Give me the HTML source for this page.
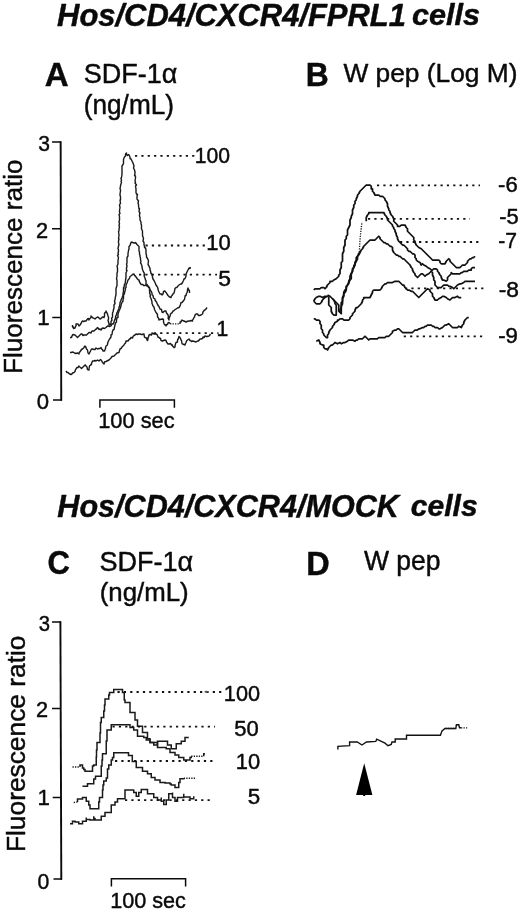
<!DOCTYPE html>
<html>
<head>
<meta charset="utf-8">
<title>Figure</title>
<style>
html,body{margin:0;padding:0;background:#fff;}
body{width:520px;height:911px;overflow:hidden;position:relative;}
svg{position:absolute;left:0;top:0;display:block;}
text{font-family:"Liberation Sans",sans-serif;fill:#0a0a0a;stroke:#0a0a0a;stroke-width:.45px;stroke-linejoin:round;}
.ax{fill:none;stroke:#0a0a0a;stroke-width:1.9;}
.tk{fill:none;stroke:#0a0a0a;stroke-width:1.5;}
.cvA path{fill:none;stroke:#1a1a1a;stroke-width:1.4;stroke-linejoin:round;}
.cvB path{fill:none;stroke:#111;stroke-width:1.75;stroke-linejoin:round;}
.cvC path{fill:none;stroke:#1a1a1a;stroke-width:1.5;stroke-linejoin:miter;}
.cvD path{fill:none;stroke:#111;stroke-width:1.4;stroke-linejoin:miter;}
.dt path{fill:none;stroke:#111;stroke-width:1.8;stroke-dasharray:2.2 4.15;}
.dt2 path{fill:none;stroke:#1a1a1a;stroke-width:1.3;stroke-dasharray:1.3 1.2;}
</style>
</head>
<body>
<svg width="520" height="911" viewBox="0 0 520 911">
<rect width="520" height="911" fill="#fff"/>
<!-- text -->
<text transform="translate(57.08 25.9) scale(0.99 1)" font-size="31.25" font-weight="bold" font-style="italic">Hos/CD4/CXCR4/FPRL1</text>
<text transform="translate(412.08 25.3) scale(1.02 1)" font-size="30" font-weight="bold" font-style="italic">cells</text>
<text transform="translate(57.29 517.2) scale(0.97 1)" font-size="31.54" font-weight="bold" font-style="italic">Hos/CD4/CXCR4/MOCK</text>
<text transform="translate(410.85 516.41) scale(1.02 1)" font-size="29.46" font-weight="bold" font-style="italic">cells</text>
<text transform="translate(44.8 86.34) scale(0.97 1)" font-size="34.12" font-weight="bold">A</text>
<text transform="translate(83.64 82.82) scale(0.97 1)" font-size="27.89">SDF-1α</text>
<text transform="translate(83.73 113.83) scale(0.97 1)" font-size="27.02">(ng/mL)</text>
<text transform="translate(305.86 86.2) scale(0.96 1)" font-size="33.19" font-weight="bold">B</text>
<text transform="translate(343.44 82.11) scale(0.99 1)" font-size="26.6">W pep (Log M)</text>
<text transform="translate(47.46 573.97) scale(0.93 1)" font-size="33.38" font-weight="bold">C</text>
<text transform="translate(99.45 570.62) scale(0.98 1)" font-size="27.61">SDF-1α</text>
<text transform="translate(99.7 601.03) scale(0.99 1)" font-size="26.06">(ng/mL)</text>
<text transform="translate(306.22 574.6) scale(0.97 1)" font-size="33.48" font-weight="bold">D</text>
<text transform="translate(363.94 569.98) scale(0.99 1)" font-size="26.78">W pep</text>
<text transform="translate(98.25 428.27) scale(0.95 1)" font-size="22.96">100 sec</text>
<text transform="translate(110.16 908.37) scale(0.96 1)" font-size="22.54">100 sec</text>
<text transform="translate(38.36 151.27) scale(0.92 1)" font-size="22.96">3</text>
<text transform="translate(36.01 237.7) scale(0.96 1)" font-size="22.71">2</text>
<text transform="translate(37.22 325) scale(1 1)" font-size="22.32">1</text>
<text transform="translate(36.82 409.27) scale(0.97 1)" font-size="22.82">0</text>
<text transform="translate(38.79 630.58) scale(0.91 1)" font-size="22.25">3</text>
<text transform="translate(36.01 716.9) scale(0.97 1)" font-size="22.43">2</text>
<text transform="translate(37.52 804.7) scale(1 1)" font-size="22.32">1</text>
<text transform="translate(37.45 888.87) scale(0.94 1)" font-size="22.54">0</text>
<text transform="translate(194.8 163.48) scale(0.95 1)" font-size="22.25">100</text>
<text transform="translate(206.33 250.48) scale(0.99 1)" font-size="22.25">10</text>
<text transform="translate(218.28 285.88) scale(1.04 1)" font-size="22">5</text>
<text transform="translate(216.41 335.8) scale(1 1)" font-size="21.16">1</text>
<text transform="translate(498.12 192.08) scale(1.02 1)" font-size="21.69">-6</text>
<text transform="translate(499.13 223.68) scale(1.01 1)" font-size="21.71">-5</text>
<text transform="translate(498.26 248.01) scale(0.98 1)" font-size="21.47">-7</text>
<text transform="translate(498.69 297.28) scale(1.05 1)" font-size="21.69">-8</text>
<text transform="translate(498.22 342.98) scale(1.01 1)" font-size="21.97">-9</text>
<text transform="translate(223.86 700.98) scale(0.97 1)" font-size="22.39">100</text>
<text transform="translate(234.32 736.48) scale(0.99 1)" font-size="22.25">50</text>
<text transform="translate(235.85 769.28) scale(1.01 1)" font-size="21.69">10</text>
<text transform="translate(247.81 803.88) scale(1.02 1)" font-size="21.93">5</text>
<text transform="translate(22.44 374) rotate(-90) scale(0.99 1)" font-size="26.35">Fluorescence ratio</text>
<text transform="translate(25.44 852.1) rotate(-90) scale(1.01 1)" font-size="26.08">Fluorescence ratio</text>
<!-- axes and scale bars -->
<path class="ax" d="M60.65 141.2L61.25 400.8"/>
<path class="tk" d="M52 141.9H61M52 228.8H61M52.3 317.5H61M53 400H61.9"/>
<path class="tk" d="M99.9 407.7V399.9H174.4V407.7"/>
<path class="ax" d="M60.4 621.2L61.3 879.8"/>
<path class="tk" d="M52 621.9H61M52 708.5H61M52.7 797.4H61M53.5 879.1H62"/>
<path class="tk" d="M111.4 886.6V878.8H185.6V886.6"/>
<!-- traces -->
<g class="cvA">
<path d="M72.5 325 72.5 327 73.5 327 73.5 328.5 75 328 75.5 326.5 76 326 76 324 77.5 324 78 324 79 326 80 325 81 323.5 82 321.5 82.5 321 83.5 321.5 85 321 86 321 87.5 319 88.5 318.5 89 320 89.5 319 91 317.5 91 316 92 317 93 318 93.5 318 95 319 96 318 97.5 317 98.5 317.5 100 319 101 318.5 102.5 317 104 317.5 104.5 316 104.5 313.5 105 312.5 106 312.5 106 311 106.5 312 107.5 314 108 316 108.5 317 108.5 319 108 320.5 108.5 322 109 324 109 325 110 324.5 111 324 111 321.5 112 320 111.5 318.5 112.5 317 112.5 315 112.5 313 113 312 113.5 309.5 114 308 114 305.5 114 305 115 303.5 114.5 301 115 300 115 299.5 115.5 296.5 116 294.5 116 294 116 291.5 116 290 116 288.5 117 285.5 117 284 117 281.5 117 280 116.5 279 117 276 117 275 117 273 117.5 272 117.5 270 117.5 268 117 266 117.5 265 118 264 118 262.5 118 260.5 118.5 257.5 117.5 255.5 118.5 254.5 118 253.5 118.5 251 118.5 250 118 248.5 118.5 246 119 244.5 118.5 243 118.5 241 119 239 118.5 238.5 119 235.5 119 235 118.5 231.5 119 231 119 229 119.5 227 119 226 119.5 223.5 119 222 119.5 220 119.5 218.5 119.5 216.5 119 214.5 120 213.5 119.5 212 119.5 210.5 120 207.5 119.5 205 120.5 203 120.5 203.5 120 200 120.5 200 120.5 197 120 195 120 194 120.5 191 120.5 190 120 188.5 120.5 186.5 120.5 185.5 121.5 182.5 121 181.5 121.5 180.5 121 178 121.5 177.5 122 174.5 122 173.5 122 172.5 122 170 122 168.5 122 166 123 164.5 123.5 163.5 123.5 161 123.5 159.5 124 158 124.5 157 125.5 156 125.5 154 126.5 153 126.5 154.5 127.5 155.5 128.5 154.5 129 155 130 157 130 158.5 131 159 132 161 132.5 162 133 163 133.5 164.5 134 166 133.5 168 134.5 170 135 172 135 173.5 134.5 175.5 135.5 176 135.5 178 135 181 135.5 182 135 183 136.5 185 135.5 186 136 189 136 190 136 192.5 136.5 194 137.5 194.5 137 196.5 137 198.5 137 199 138.5 201 138 203 138.5 204.5 138.5 205.5 139 209 139.5 208.5 139 211.5 140 213 139.5 214.5 139.5 216 140 217.5 140 218.5 140 220 141 222 141 224 141.5 225 141.5 226.5 141.5 229 142 230 142.5 231 142.5 233 142.5 235 142.5 235.5 143 237 143.5 238.5 143 241 144 242.5 144 244.5 144.5 246.5 144.5 247.5 145.5 248 146 250 146 253.5 146 254 146.5 255 146.5 257 147.5 258.5 148 259.5 148.5 261 148 264.5 149 266 149.5 267.5 150 268 150 270 150.5 271 151 273.5 151.5 273.5 152.5 276.5 152.5 277.5 153 279 154 280.5 154.5 281.5 155 282.5 156 285 157 286.5 157.5 287 158 289 158.5 291 159 292 160 294 161.5 294 162 295 163 294 163.5 291.5 165 291 165.5 292 166.5 293 167 294 168 295.5 169 296.5 169.5 297 171 297.5 171.5 296 172 295.5 173 294 174 293 174.5 291 175 288.5 176 287.5 177 287.5 177.5 286.5 179 285 180.5 284 181.5 284 182.5 282.5 183 281.5 183.5 280.5 184 279 185 278.5 186 276.5 186 275 186.5 273 187 272 188 270 189 268 190 268.5 190.5 267"/>
<path d="M70 337.5 71.5 337.5 72 336 73 334.5 75 335 76.5 336.5 77.5 337.5 78.5 336.5 79 336 80 335 81 334 82 334 83 335.5 84 335 85 335 86.5 335 88 333.5 89 332.5 90 332.5 91 333 92 331 94 331 95 330 96 329 96.5 329 97.5 327.5 98.5 328.5 99 329.5 100 329 101 330 102 328.5 103 328 104.5 328.5 106 327.5 107.5 326 108 326 109.5 326.5 110 326 111 326 112 324 113 324 114 322.5 114 322 115 319 115.5 319 115.5 317 116 315.5 116.5 315 117 312.5 117.5 312 118 310.5 119 308.5 119 307 119.5 306.5 120 304 120 302.5 121 300.5 121 300 122 298 122.5 296.5 123 295.5 123 293.5 123.5 292 123.5 290 123.5 287.5 124 287.5 124.5 284 125 284 125.5 281 125.5 280 126 277.5 126 276 126 275.5 126 273 127 270.5 126.5 270.5 126.5 268 127 266 126.5 264 127 263 127 262 127 260 127 257.5 128 256 128 255 128 253.5 128.5 250.5 129 249 129 248 129 246.5 130 245.5 130.5 244 131 242.5 132 242 132.5 242.5 134 243 135 243 135.5 242.5 137 244.5 137.5 245 138.5 246 139 246.5 139 247.5 139 249 139 251 139.5 252 139.5 254 140 255.5 140 256.5 140.5 258 140.5 260 141 261.5 140.5 263 141 263.5 142 266 142 267 142.5 269.5 143.5 272 144 272.5 144.5 275 144 275 144.5 277 145 278 145.5 280 146 280.5 146 282.5 146 284 146.5 284 147.5 285 148.5 287 149.5 287.5 149.5 288.5 150.5 290.5 151 291 152 293 152 294.5 153 295.5 153.5 298 155 299 155 300 156 301.5 156.5 302 157.5 304.5 158.5 306 159 306.5 160 309 161.5 309.5 162 312 163 312.5 164 311.5 164.5 311 166 311 166 311.5 166.5 313 167 313.5 168 315 168.5 317 168 318 169 320 169 318.5 169.5 317.5 170 316 170.5 314 171.5 313 172 313 173 311 173.5 311 174.5 310 176 309 177.5 308 179 307.5 180 306 180.5 304.5 181 302.5 182 302.5 182.5 302 184 300 184.5 299.5 185 296.5 185 296 186 295.5 186.5 293.5 187 292.5 187.5 291 187.5 289.5 188 288 188.5 289.5 189.5 291 189.5 293"/>
<path d="M70 352.5 71 352.5 73 352 74.5 353 76 353.5 77.5 353 79 354 79 353 80.5 351 81.5 349.5 82.5 349 84 347.5 85 346 86 347.5 86.5 349 87.5 350 88 353 89 354 89.5 353 90.5 351 91.5 349 92.5 349 94 349.5 95 349.5 96 348 97.5 349 99 348.5 100 348.5 101 347.5 102 349.5 102.5 349.5 103 351 104 351 104.5 351 105.5 348.5 105.5 348 106 346 107.5 345 107.5 344 108 342 108.5 341 109 340 109.5 339 110 338.5 111 337 111 335 112 334.5 112.5 331 113 330 114 329.5 114.5 327 115 325 115.5 323 116.5 322 116.5 320 117 317.5 118 317.5 118 315 118 314 119 311 119.5 310 120 309 121 306 121 305 122 302.5 122.5 301.5 123 301.5 123 299 123.5 298.5 123.5 295 124.5 293.5 124.5 292.5 125 291 125.5 289 125 288.5 126 287.5 126 285 127 283 127.5 281.5 128 280 129 279 129.5 278 130 276.5 131.5 275.5 132.5 274.5 134 274 134.5 275.5 135.5 276 136 277 137.5 279 138.5 280 139 280 139.5 282 140.5 283.5 141 284.5 143 284.5 143.5 285.5 145 285.5 146 285 147 286 148 286.5 149 287.5 149.5 288.5 149.5 291 150 292 149.5 292.5 150.5 295.5 150 296 150.5 297.5 151 298.5 151.5 300 152 302 152 303.5 152.5 304.5 153 306 154 307 154.5 309.5 155.5 311.5 156 312.5 156.5 313 157.5 314.5 157.5 316 157.5 317 158.5 318 159 320 159.5 319.5 160.5 319.5 162 319 162.5 319 163.5 319.5 163.5 322 164 323.5 164.5 324.5 165.5 325 166 326 166.5 324.5 167.5 324.5 168 323 169 322.5 170 323.5"/>
<path d="M180 324 180 322 181 322 181.5 320.5 182 320 182.5 320.5 184 321 186 322 187 321.5 188.5 321 190 321 191 320.5 192.5 321 192.5 320 193 319.5 194 317.5 194.5 317 195 315 196 314 197.5 314 198.5 315.5 199.5 315.5 201 315 202.5 314 203 312 204.5 310 205 310 206 309 207 307.5"/>
<path d="M66 371 67 372.5 68 372.5 69.5 374 70 374 71 374.5 72 374 72.5 373 74 372.5 75 371.5 75.5 369.5 76 369 77 367.5 78 367.5 79 366 79 366.5 80.5 367.5 81.5 368.5 82.5 367.5 84 366 84.5 365.5 85.5 365 86 366 87 367 87.5 369.5 89 370 89 369 89.5 366 90.5 365 91.5 364.5 91.5 363.5 92.5 361 94 361 95 360.5 96 361 97.5 360 99 361 100.5 359.5 101 360 101.5 360.5 102.5 362.5 104 364 104.5 362 106 361.5 107 361 109 360 109.5 359.5 111 358 112 356.5 114 356 115 355 116 354 117 353 119 352.5 119.5 350.5 120 349 121 348.5 122 347 122.5 346.5 124 345 124.5 344 125.5 343 126 341 127.5 341 128 341 129.5 339 130 339 131 337.5 132.5 338 133 336.5 134 335.5 135 335 136 334 137.5 334.5 138.5 334 140 334 141.5 334.5 142 334.5 144 334 144 334.5 144.5 337 145 337.5 146.5 338 147 340 147.5 340.5 148 339 148 337.5 148.5 337 149 335 150 334.5 151.5 335 152 333 154 334 155.5 334 156 334 157 334.5 158 337 159 337.5 159.5 338 160.5 338.5 161 340.5 162.5 341 163.5 340.5 165 340 166 340.5 166.5 342 168 344 169 344 170.5 343.5 171.5 345 172.5 345 172.5 346 174 347.5 175 347 175 346 175.5 344 176 342.5 177.5 342 177.5 340 178.5 338.5 178.5 338 179 336.5 180 337.5 180.5 338.5 181 340 181.5 340.5 182 343.5 182.5 344 184 344.5 185 345 185.5 343.5 186 342.5 186.5 341 187.5 340 189 339 190 340.5 190.5 340.5 191.5 341.5 192.5 341 194.5 341.5 196 342 197.5 341 198.5 341 199.5 339.5 200 339 201 339 202.5 338.5 203 337 204 337.5 205 336 206.5 336.5 207 336.5 209 336 209.5 335.5 210.5 334"/>
</g>
<g class="cvB">
<path d="M313.75 290 315 288.75 317.5 288.75 318.75 288.75 320 288.75 321.25 287.5 323.75 287.5 325 288.75 326.25 287.5 327.5 285 328.75 283.75 330 282.5 330 281.25 332.5 281.25 333.75 280 336.25 278.75 337.5 277.5 338.75 276.25 338.75 275 340 273.75 340 271.25 340 270 341.25 267.5 341.25 266.25 341.25 265 341.25 262.5 342.5 261.25 342.5 258.75 342.5 256.25 342.5 253.75 343.75 251.25 343.75 250 343.75 247.5 345 245 345 242.5 345 240 346.25 238.75 346.25 236.25 347.5 235 347.5 232.5 347.5 230 348.75 227.5 350 225 350 222.5 350 220 351.25 217.5 351.25 216.25 352.5 213.75 352.5 212.5 352.5 210 353.75 207.5 353.75 205 355 203.75 355 201.25 356.25 200 356.25 198.75 357.5 196.25 357.5 195 358.75 193.75 360 191.25 361.25 190 362.5 188.75 363.75 187.5 365 186.25 366.25 185 367.5 185 368.75 185 370 185 371.25 186.25 371.25 188.75 372.5 188.75 372.5 191.25 373.75 192.5 375 195 376.25 195 378.75 195 380 196.25 382.5 196.25 383.75 197.5 385 198.75 385 200 386.25 201.25 387.5 203.75 387.5 206.25 388.75 208.75 388.75 210 390 211.25 390 212.5 391.25 215 392.5 216.25 393.75 218.75 393.75 221.25 395 222.5 396.25 223.75 397.5 225 397.5 226.25 400 226.25 401.25 225 402.5 225 403.75 225 405 225 406.25 227.5 407.5 228.75 407.5 231.25 408.75 232.5 410 233.75 411.25 235 412.5 236.25 413.75 237.5 413.75 240 415 241.25 415 242.5 416.25 245 417.5 246.25 418.75 247.5 421.25 248.75 422.5 250 423.75 251.25 425 252.5 426.25 253.75 427.5 255 428.75 256.25 430 257.5 431.25 258.75 432.5 260 435 260 436.25 260 438.75 260 440 261.25 440 262.5 441.25 263.75 443.75 263.75 445 263.75 446.25 261.25 447.5 260 448.75 258.75 450 260 450 261.25 451.25 262.5 452.5 263.75 453.75 265 455 266.25 456.25 267.5 457.5 267.5 460 267.5 461.25 266.25 462.5 265 463.75 265 465 265 466.25 263.75 467.5 262.5 467.5 261.25 468.75 260 470 258.75 471.25 258.75 472.5 257.5 473.75 257.5 475 256.25"/>
<path d="M313.75 301.25 315 298.75 316.25 297.5 318.75 296.25 320 296.25 322.5 297.5 325 296.25 327.5 296.25 325 297.5 323.75 298.75 322.5 300 321.25 302.5 320 303.75 317.5 303.75 316.25 303.75 315 302.5 313.75 301.25"/>
<path d="M327.5 295 330 296.25 331.25 297.5 332.5 298.75 333.75 300 335 301.25 336.25 302.5 337.5 303.75 338.75 305 338.75 306.25 338.75 308.75 338.75 311.25 340 312.5 341.25 313.75 341.25 311.25 341.25 308.75 341.25 307.5 341.25 305 341.25 302.5 342.5 301.25 342.5 298.75 342.5 297.5 343.75 295 343.75 292.5 345 290 346.25 288.75 346.25 286.25 347.5 285 348.75 282.5 350 280 351.25 278.75 351.25 276.25 351.25 273.75 352.5 271.25 352.5 270 353.75 267.5 353.75 266.25 355 263.75 355 262.5 356.25 260 356.25 257.5 357.5 256.25 358.75 253.75 358.75 252.5"/>
<path d="M366.25 221.25 366.25 220 366.25 218.75 366.25 217.5 367.5 215 368.75 213.75 368.75 212.5 371.25 212.5 373.75 212.5 376.25 212.5 377.5 212.5 380 212.5 381.25 212.5 383.75 212.5 385 215 386.25 216.25 387.5 218.75 387.5 220 388.75 221.25 390 222.5 391.25 223.75 392.5 225 392.5 226.25 393.75 227.5 393.75 228.75 395 230 395 231.25 396.25 233.75 396.25 235 397.5 237.5 397.5 238.75 398.75 241.25 400 242.5 401.25 243.75 402.5 245 403.75 245 405 246.25 406.25 247.5 407.5 248.75 407.5 250 408.75 251.25 410 251.25 411.25 252.5 412.5 253.75 413.75 253.75 415 255 415 257.5 416.25 258.75 416.25 260 417.5 261.25 420 262.5 421.25 265 422.5 263.75 423.75 265 426.25 266.25 427.5 267.5 430 268.75 431.25 270 432.5 270 433.75 268.75 436.25 268.75 437.5 270 437.5 271.25 438.75 272.5 440 275 441.25 276.25 441.25 277.5 442.5 280 443.75 280 446.25 281.25 447.5 280 447.5 277.5 448.75 276.25 450 275 451.25 273.75 451.25 272.5 452.5 273.75 455 273.75 456.25 273.75 458.75 273.75 460 273.75 461.25 272.5 462.5 272.5 463.75 271.25 465 271.25 467.5 271.25 468.75 270 471.25 270 471.25 268.75 472.5 267.5 473.75 267.5 475 267.5"/>
<path d="M328.75 296.25 328.75 298.75 328.75 300 328.75 302.5 328.75 305 330 306.25 331.25 307.5 331.25 310 331.25 311.25 332.5 313.75 333.75 315 335 315 336.25 315 336.25 312.5 336.25 310 336.25 307.5 336.25 305 335 303.75 335 302.5 333.75 300 332.5 298.75"/>
<path d="M340 312.5 340 310 341.25 307.5 341.25 306.25 342.5 303.75 342.5 301.25 342.5 298.75 343.75 296.25 343.75 293.75 345 292.5 346.25 290 346.25 287.5 347.5 285 348.75 283.75 348.75 281.25 350 278.75 350 276.25 351.25 273.75 352.5 271.25 352.5 268.75 353.75 267.5 355 265 355 263.75 356.25 261.25 357.5 258.75 357.5 256.25 358.75 255 360 252.5 361.25 250 362.5 248.75 363.75 246.25 365 245 366.25 243.75 367.5 242.5 368.75 241.25 370 240 371.25 240 373.75 240 375 240 376.25 238.75 377.5 237.5 378.75 236.25 380 237.5 380 238.75 381.25 240 382.5 241.25 383.75 242.5 385 242.5 386.25 243.75 387.5 243.75 388.75 245 390 246.25 391.25 246.25 392.5 247.5 392.5 250 393.75 252.5 395 253.75 396.25 255 397.5 255 398.75 256.25 400 256.25 401.25 257.5 402.5 258.75 403.75 258.75 405 260 406.25 261.25 407.5 262.5 408.75 263.75 410 265 411.25 267.5 412.5 268.75 412.5 270 413.75 272.5 415 273.75 415 275 416.25 276.25 417.5 277.5 418.75 276.25 420 275 421.25 273.75 422.5 273.75 423.75 275 425 276.25 426.25 275 428.75 273.75 430 272.5 431.25 271.25 432.5 272.5 432.5 275 433.75 277.5 433.75 280 435 281.25 435 282.5 435 285 436.25 286.25 437.5 287.5 438.75 287.5 440 287.5 441.25 287.5 442.5 286.25 443.75 285 445 285 446.25 285 447.5 285 448.75 286.25 450 286.25 452.5 287.5 453.75 288.75 455 287.5 456.25 286.25 457.5 285 460 283.75 461.25 283.75 463.75 282.5 465 281.25 466.25 281.25 468.75 281.25 470 281.25 471.25 281.25 473.75 281.25 475 281.25"/>
<path d="M313.75 318.75 315 318.75 316.25 320 318.75 320 320 321.25 320 323.75 321.25 325 321.25 326.25 321.25 328.75 322.5 330 322.5 332.5 323.75 333.75 323.75 335 325 336.25 326.25 337.5 327.5 337.5 327.5 335 328.75 333.75 328.75 332.5 330 330 332.5 327.5 332.5 326.25 333.75 325 335 322.5 337.5 321.25 337.5 320 338.75 320 340 318.75 342.5 318.75 343.75 320 346.25 320 347.5 320 348.75 320 350 318.75 350 317.5 351.25 316.25 352.5 315 352.5 313.75 353.75 312.5 355 311.25 355 310 356.25 307.5 357.5 307.5 358.75 306.25 360 305 361.25 303.75 362.5 301.25 362.5 300 363.75 298.75 363.75 297.5 365 297.5 367.5 297.5 368.75 297.5 370 297.5 371.25 295 372.5 292.5 372.5 291.25 373.75 290 375 290 377.5 290 378.75 290 380 290 381.25 288.75 382.5 286.25 383.75 285 385 283.75 386.25 283.75 387.5 282.5 390 282.5 391.25 282.5 392.5 282.5 395 281.25 397.5 281.25 398.75 281.25 400 282.5 401.25 283.75 402.5 285 403.75 285 405 287.5 406.25 288.75 407.5 290 408.75 290 411.25 291.25 412.5 291.25 413.75 292.5 415 293.75 416.25 295 417.5 296.25 418.75 297.5 420 296.25 421.25 295 422.5 293.75 423.75 292.5 425 291.25 426.25 290 427.5 288.75 430 290 430 291.25 431.25 292.5 432.5 293.75 432.5 296.25 433.75 297.5 435 300 437.5 300 438.75 298.75 441.25 297.5 442.5 296.25 443.75 296.25 446.25 297.5 447.5 298.75 450 300 451.25 298.75 452.5 297.5 453.75 297.5 455 297.5 457.5 296.25 458.75 297.5 461.25 297.5"/>
<path d="M316.25 341.25 318.75 340 320 342.5 320 343.75 322.5 345 323.75 345 323.75 347.5 325 348.75 326.25 348.75 327.5 350 328.75 347.5 330 346.25 331.25 345 332.5 345 333.75 343.75 335 342.5 337.5 343.75 340 342.5 341.25 343.75 343.75 342.5 345 342.5 347.5 341.25 348.75 340 350 340 352.5 340 355 341.25 356.25 340 357.5 340 358.75 338.75 361.25 338.75 362.5 338.75 363.75 337.5 365 336.25 366.25 337.5 367.5 338.75 368.75 340 370 338.75 372.5 338.75 373.75 338.75 375 338.75 377.5 338.75 378.75 337.5 381.25 337.5 382.5 337.5 385 337.5 386.25 336.25 388.75 336.25 390 335 391.25 333.75 392.5 332.5 392.5 331.25 395 330 396.25 330 397.5 328.75 398.75 328.75 400 330 401.25 331.25 402.5 332.5 405 332.5 407.5 332.5 408.75 332.5 410 332.5 412.5 332.5 413.75 331.25 415 330 417.5 330 418.75 328.75 420 328.75 422.5 327.5 423.75 327.5 425 326.25 426.25 326.25 427.5 325 428.75 325 430 325 431.25 325 432.5 326.25 433.75 326.25 435 327.5 436.25 327.5 437.5 327.5 438.75 328.75 440 328.75 442.5 327.5 443.75 326.25 445 325 446.25 325 448.75 323.75 450 325 451.25 326.25 452.5 327.5 455 327.5 457.5 327.5 458.75 326.25 461.25 327.5 462.5 325 463.75 323.75 463.75 322.5 465 320 466.25 318.75 467.5 317.5 468.75 317.5"/>
</g>
<g class="cvC">
<path d="M80 767 80 765 81.25 765 82.5 765 82.5 768 83.75 768 83.75 769.5 85 769.5 85 771.25 86.25 771.25 92.5 771.25 92.5 766 93.75 766 93.75 765 96.25 765 96.25 763.75 96.25 757 96.5 757 96.5 750 97 750 97 742.5 100 742.5 100 733 100.5 733 100.5 722.5 101.25 722.5 101.25 717.5 103.75 717.5 103.75 711 104.5 711 104.5 705 105 705 105 699 108.75 699 108.75 695 109.5 695 109.5 692.5 110 692.5 113.75 692.5 113.75 689.5 122.5 689.5 122.5 692.5 124.25 692.5 124.25 700 125 700 125 702.5 126.25 702.5 130 702.5 130 705 130 712.5 131.25 712.5 135 712.5 135 715 135 720 137.5 720 137.5 726.25 138.75 726.25 142.5 726.25 142.5 727.5 142.5 732.5 143.75 732.5 147.5 732.5 147.5 733.75 147.5 738.75 150 738.75 150 742.5 152.5 742.5 157.5 742.5 157.5 743.75 157.5 747.5 160 747.5 166.25 747.5 166.25 748.75 170 748.75 170 752.5 175 752.5 175 755 178.75 755 178.75 757.5 183.75 757.5 183.75 760 187.5 760 190 760 190 757.5 191.25 757.5 191.25 756.25"/>
<path d="M203.75 756.25 203.75 753.75 205 753.75"/>
<path d="M82.5 786.25 87.5 786.25 87.5 783.75 88.75 783.75 93.75 783.75 93.75 782.5 93.75 779 95.5 779 95.5 776.25 97.5 776.25 101.25 776.25 101.25 773.75 101.25 766 102 766 102 760 102.5 760 102.5 753.75 106.25 753.75 106.25 741 107 741 107 730 107.5 730 111.25 730 111.25 727.5 111.25 724.75 112.5 724.75 126.25 724.75 130 724.75 130 727.5 133.75 727.5 133.75 730 137.5 730 137.5 731.25 137.5 736.25 140 736.25 143.75 736.25 143.75 737.5 146.25 737.5 146.25 740 150 740 150 742.5 153.75 742.5 153.75 745 157.5 745 157.5 741.25 160 741.25 167.5 741.25 167.5 745 168.75 745 171.25 745 171.25 746.25 171.25 748.75 172.5 748.75 176.25 748.75 176.25 743.75 178.75 743.75 181.25 743.75 181.25 741.25 185 741.25 185 740 185 737.5 186.25 737.5 188.75 737.5"/>
<path d="M77.5 802 77.5 799 80 799 82.5 799 82.5 797.5 86.25 797.5 86.25 801.25 88.75 801.25 88.75 805 90 805 90 808.75 91.25 808.75 98.75 808.75 98.75 802 99.5 802 99.5 797.5 100 797.5 102.5 797.5 102.5 796.25 102.5 790 103 790 103 785 103.75 785 103.75 781 106.25 781 106.25 778 107.5 778 107.5 769 108.75 769 108.75 765 111.25 765 111.25 760 112.5 760 112.5 757.5 113.75 757.5 113.75 752.8 116.6 752.8 124.2 752.8 128.5 752.8 128.5 755.5 132.3 755.5 132.3 758 132.3 761.5 133.5 761.5 136.25 761.5 136.25 762.5 136.25 767.5 138.75 767.5 142.5 767.5 142.5 771.25 147.5 771.25 147.5 773.75 151.25 773.75 151.25 777.5 155 777.5 155 780 160 780 160 782.5 165 782.5 165 783 170 783 170 784 171.25 784 171.25 785 175 785 175 787.5 178.75 787.5 178.75 782.5 180 782.5 180 778.75 182.5 778.75 183.75 778.75 183.75 778.25"/>
<path d="M70 823.75 72.5 823.75 72.5 821.25 75 821.25 75 822 78.75 822 78.75 823.75 82.5 823.75 82.5 821.25 86.25 821.25 86.25 817.5 86.25 819.5 88 819.5 90 819.5 90 820 93.75 820 93.75 816.25 93.75 818.5 95 818.5 95 820 96.25 820 101.25 820 101.25 816.25 105 816.25 105 812.5 111.25 812.5 111.25 811.25 111.25 805 115 805 115 801.88 117.5 801.88 117.5 798.75 120 798.75 125 798.75 125 796.25 125 790 127.5 790 133.75 790 133.75 789.5 133.75 792.5 136.25 792.5 136.25 796.25 138.75 796.25 138.75 792.5 141.25 792.5 141.25 789.5 143.75 789.5 147.5 789.5 147.5 790 147.5 793.75 150 793.75 153.75 793.75 153.75 797.5 157.5 797.5 157.5 800 161.25 800 161.25 797.5 161.25 801.25 163.75 801.25 163.75 804.5 166.25 804.5 166.25 800 168.75 800 168.75 793.75 170 793.75 172.5 793.75 172.5 792.5 172.5 797.5 175 797.5 175 801.25 177.5 801.25 177.5 797.5 180 797.5 183.75 797.5 183.75 793.75 183.75 797 186.25 797 190 797 190 798.75 193.75 798.75 193.75 796.25"/>
</g>
<g class="cvD">
<path d="M337.9 749.6 337.9 746.3 349.6 745.7 349.6 742 357.3 742 361.9 745 366.5 742 375.8 741.4 376.7 739.2 385 743.2 388 745.7 391.2 744.5 392 742 395.2 742 395.2 739 406.5 739 406.5 735.2 440.4 735.2 442 731 445 728.5 455.8 728.5 456.4 724.8 458.8 724.8 459.5 727.8 461 727.8"/>
</g>
<g class="dt">
<path d="M135 155.9H195"/>
<path d="M145.5 245.5H207"/>
<path d="M139 274.7H217"/>
<path d="M153.8 333.1H218.5"/>
<path d="M377 185.4H480"/>
<path d="M368 218.9H470"/>
<path d="M400 242H481.5"/>
<path d="M405 288.3H484.5"/>
<path d="M403.75 336.4H485"/>
<path d="M117.5 692H221.5"/>
<path d="M112.5 726.6H215"/>
<path d="M115 761H213.5"/>
<path d="M125 800.1H213.5"/>
</g>
<g class="dt2">
<path d="M170 323.7 180 324"/>
<path d="M72.5 767 80 767"/>
<path d="M191.25 756.25 203.75 756.25"/>
<path d="M73.75 802.5 77.5 802"/>
<path d="M183.75 778.25 195 778.25"/>
<path d="M359.3 252 360 240 361 230 362 222"/>
<path d="M445.5 728.5 455.5 728.5"/>
<path d="M461 727.8 467.2 727.8"/>
</g>
<ellipse cx="206.3" cy="691.8" rx="1.8" ry="1.1" fill="#555"/>
<!-- arrowhead -->
<path d="M364.2 763.3L356.1 795H363.2V795.9H365.2V795H372.4Z" fill="#000"/>
</svg>
</body>
</html>
